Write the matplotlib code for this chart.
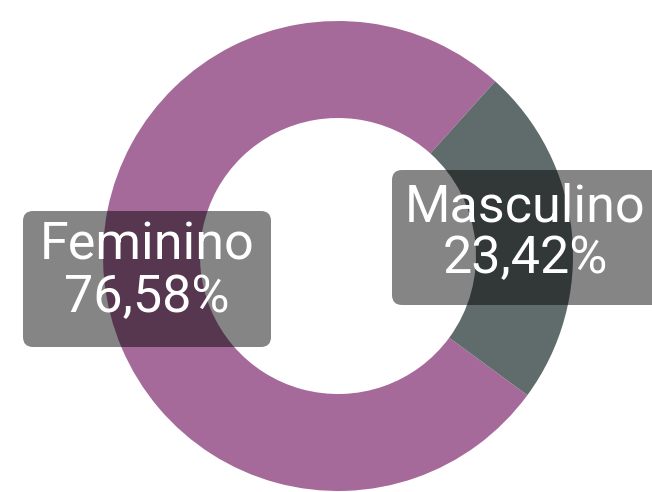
import matplotlib
matplotlib.use("Agg")
import matplotlib.pyplot as plt
from matplotlib.patches import FancyBboxPatch

# data
labels = ["Feminino", "Masculino"]
values = [76.58, 23.42]
pct_text = ["76,58%", "23,42%"]
colors = ["#a56a99", "#606c6c"]

W, H = 652, 492
fig = plt.figure(figsize=(W / 100, H / 100), dpi=100)
ax = fig.add_axes([0, 0, 1, 1])

cx, cy = 338, H - 256
r_out, r_in = 235, 138

ax.pie(values, colors=colors, startangle=48, counterclock=True,
       center=(cx, cy), radius=r_out,
       wedgeprops=dict(width=r_out - r_in, linewidth=0))

ax.set_xlim(0, W)
ax.set_ylim(0, H)
ax.set_aspect("equal")
ax.axis("off")

# label boxes (x0, y_top_img, x1, y_bottom_img) and text centers
boxes = [(23, 211, 271, 347), (392, 170, 662, 305)]
centers = [(147, 246, 298), (525, 207, 259)]

for (x0, yt, x1, yb), (tx, y1, y2), lab, pct in zip(boxes, centers, labels, pct_text):
    pad = 10
    box = FancyBboxPatch((x0 + pad, H - yb + pad), (x1 - x0) - 2 * pad, (yb - yt) - 2 * pad,
                         boxstyle=f"round,pad={pad}", facecolor="black", alpha=0.48,
                         linewidth=0, zorder=3)
    ax.add_patch(box)
    ax.text(tx, H - y1, lab, ha="center", va="center", color="white",
            fontsize=37.5, family="Roboto", zorder=4)
    ax.text(tx, H - y2, pct, ha="center", va="center", color="white",
            fontsize=37.5, family="Roboto", zorder=4)

fig.savefig("out.png", dpi=100)
